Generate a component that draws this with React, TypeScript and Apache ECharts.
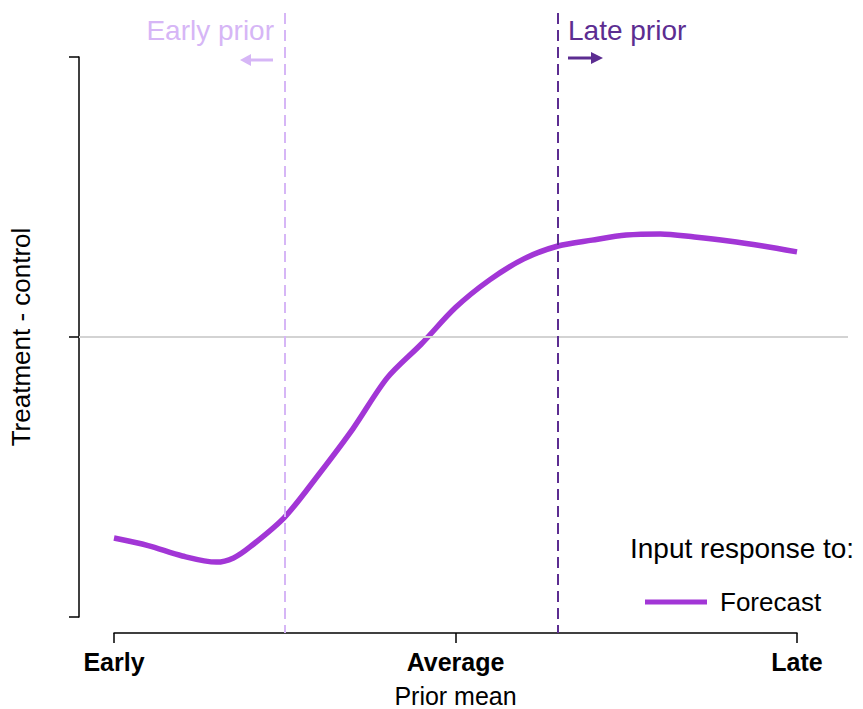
import React, { useEffect, useRef } from "react";
import * as echarts from "echarts";

// Prior mean position (0 = Early, 0.5 = Average, 1 = Late)
const priorMean = [0, 0.05, 0.1, 0.15, 0.175, 0.2, 0.25, 0.3, 0.35, 0.4, 0.45, 0.5, 0.55, 0.6, 0.65, 0.7, 0.75, 0.8, 0.85, 0.9, 0.95, 1.0];
// Treatment - control, forecast input response
const forecastResponse = [-0.718, -0.745, -0.782, -0.804, -0.789, -0.748, -0.643, -0.49, -0.327, -0.146, -0.025, 0.105, 0.204, 0.279, 0.325, 0.346, 0.364, 0.368, 0.357, 0.343, 0.325, 0.304];
const xTickLabels = ["Early", "Average", "Late"];
const earlyPrior = 0.25;
const latePrior = 0.65;

const FONT = "'Liberation Sans', Arial, Helvetica, sans-serif";
const CURVE = "#a236d6";
const EARLY_C = "#d6b6f6";
const LATE_C = "#5c2d91";

export default function App() {
  const ref = useRef<HTMLDivElement>(null);
  useEffect(() => {
    if (!ref.current) return;
    const chart = echarts.init(ref.current, null, { renderer: "svg" });
    chart.setOption({
      animation: false,
      backgroundColor: "#ffffff",
      textStyle: { fontFamily: FONT },
      grid: { left: 114, right: 66, top: 57, bottom: 92, containLabel: false, outerBoundsMode: "none" },
      xAxis: {
        type: "value",
        min: 0,
        max: 1,
        interval: 0.5,
        offset: 16,
        name: "Prior mean",
        nameLocation: "middle",
        nameGap: 50,
        nameTextStyle: { fontSize: 25, color: "#000", fontFamily: FONT },
        axisLine: { show: true, onZero: false, lineStyle: { color: "#000", width: 1.5 } },
        axisTick: { show: true, length: 10, lineStyle: { color: "#000", width: 1.5 } },
        axisLabel: {
          margin: 16,
          fontSize: 25,
          fontWeight: "bold",
          color: "#000",
          fontFamily: FONT,
          formatter: (v: number) => xTickLabels[Math.round(v * 2)] ?? "",
        },
        splitLine: { show: false },
      },
      yAxis: {
        type: "value",
        min: -1,
        max: 1,
        interval: 1,
        offset: 35,
        name: "Treatment - control",
        nameLocation: "middle",
        nameGap: 45,
        nameTextStyle: { fontSize: 26, color: "#000", fontFamily: FONT },
        axisLine: { show: true, onZero: false, lineStyle: { color: "#000", width: 1.5 } },
        axisTick: { show: true, length: 10, lineStyle: { color: "#000", width: 1.5 } },
        axisLabel: { show: false },
        splitLine: { show: false },
      },
      legend: {
        left: 640,
        top: 584,
        itemWidth: 62,
        itemHeight: 14,
        itemStyle: { color: CURVE },
        textStyle: { fontSize: 26, color: "#000", fontFamily: FONT, padding: [0, 0, 0, 8] },
        data: [{ name: "Forecast", icon: "path://M0,0L62,0L62,5L0,5Z" }],
      },
      graphic: [
        {
          type: "text",
          left: 630,
          top: 534,
          style: { text: "Input response to:", font: `28px ${FONT}`, fill: "#000" },
        },
        {
          type: "text",
          right: 863 - 274,
          top: 16,
          style: { text: "Early prior", font: `28px ${FONT}`, fill: EARLY_C },
        },
        {
          type: "text",
          left: 568,
          top: 16,
          style: { text: "Late prior", font: `28px ${FONT}`, fill: LATE_C },
        },
        { type: "line", shape: { x1: 248, y1: 60, x2: 273, y2: 60 }, style: { stroke: EARLY_C, lineWidth: 3 } },
        { type: "polygon", shape: { points: [[240, 60], [251, 54], [251, 66]] }, style: { fill: EARLY_C } },
        { type: "line", shape: { x1: 568, y1: 58, x2: 594, y2: 58 }, style: { stroke: LATE_C, lineWidth: 3 } },
        { type: "polygon", shape: { points: [[603, 58], [591, 52], [591, 64]] }, style: { fill: LATE_C } },
      ],
      series: [
        {
          name: "refs",
          type: "line",
          data: [],
          z: 1,
          silent: true,
          markLine: {
            silent: true,
            symbol: "none",
            animation: false,
            label: { show: false },
            data: [
              [
                { x: 79, yAxis: 0, lineStyle: { color: "#d3d3d3", width: 2, type: "solid" } },
                { x: 848, yAxis: 0 },
              ],
              [
                { xAxis: earlyPrior, y: 13, lineStyle: { color: EARLY_C, width: 2, type: [11, 6] } },
                { xAxis: earlyPrior, y: 633 },
              ],
              [
                { xAxis: latePrior, y: 13, lineStyle: { color: LATE_C, width: 2, type: [11, 6] } },
                { xAxis: latePrior, y: 633 },
              ],
            ],
          },
        },
        {
          name: "Forecast",
          type: "line",
          z: 3,
          smooth: 0.3,
          symbol: "none",
          lineStyle: { color: CURVE, width: 5.5 },
          itemStyle: { color: CURVE },
          data: priorMean.map((x, i) => [x, forecastResponse[i]]),
        },
      ],
    });
    return () => chart.dispose();
  }, []);
  return (
    <div
      ref={ref}
      style={{ position: "fixed", left: 0, top: 0, width: 863, height: 709, background: "#fff" }}
    />
  );
}
